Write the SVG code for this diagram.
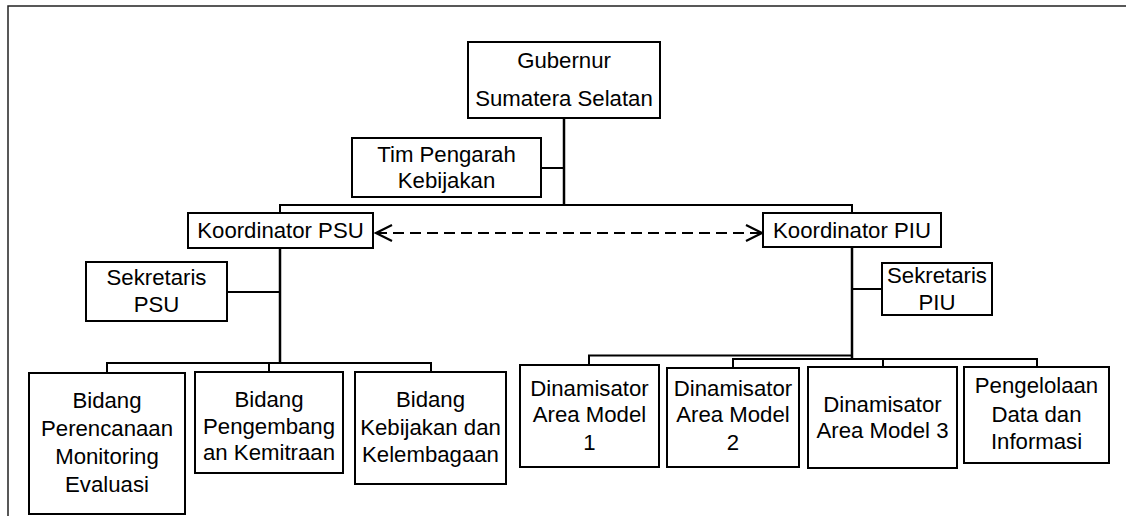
<svg xmlns="http://www.w3.org/2000/svg" width="1126" height="516" viewBox="0 0 1126 516">
  <style>
    .box { fill: #ffffff; stroke: #000000; stroke-width: 2; }
    .lbl { font-family: "Liberation Sans", Arial, sans-serif; font-size: 22.2px; fill: #000000; text-anchor: middle; }
    .ln { fill: none; stroke: #000000; stroke-width: 2; }
    .trunk { fill: none; stroke: #000000; stroke-width: 2.5; }
    .dash { fill: none; stroke: #000000; stroke-width: 2; stroke-dasharray: 11 6; }
    .frame { fill: none; stroke: #222222; stroke-width: 1.5; }
  </style>
  <defs>
    <marker id="chev" markerUnits="userSpaceOnUse" markerWidth="20" markerHeight="20" viewBox="-18 -10 20 20" refX="0" refY="0" orient="auto-start-reverse">
      <path d="M -16 -8 L 0 0 L -16 8" fill="none" stroke="#000000" stroke-width="2.2"/>
    </marker>
  </defs>

  <rect width="1126" height="516" fill="#ffffff"/>
  <!-- page frame (top and left rules) -->
  <path class="frame" d="M 8 516 V 6 H 1126"/>

  <!-- connectors -->
  <g id="connectors">
    <!-- Gubernur trunk to coordinators -->
    <path class="trunk" d="M 564 118 V 205"/>
    <path class="ln" d="M 541 168 H 564"/>
    <path class="ln" d="M 280 213 V 205 H 852 V 213"/>
    <!-- dashed two-way link between coordinators -->
    <path class="dash" d="M 376 233 H 762" marker-start="url(#chev)" marker-end="url(#chev)"/>
    <!-- PSU branch -->
    <path class="trunk" d="M 280 248 V 363"/>
    <path class="ln" d="M 227 292 H 280"/>
    <path class="ln" d="M 107 373 V 363 H 431 V 372"/>
    <path class="ln" d="M 269 363 V 372"/>
    <!-- PIU branch -->
    <path class="trunk" d="M 852 247 V 359"/>
    <path class="ln" d="M 852 289 H 882"/>
    <path class="ln" d="M 589 365 V 355.5 H 852"/>
    <path class="ln" d="M 733 368 V 359 H 1037 V 367"/>
    <path class="ln" d="M 883 359 V 367"/>
  </g>

  <g id="gubernur">
    <rect class="box" x="468" y="42" width="192" height="76"/>
    <text class="lbl" x="564" y="68">Gubernur</text>
    <text class="lbl" x="564" y="106">Sumatera Selatan</text>
  </g>

  <g id="tim-pengarah">
    <rect class="box" x="352" y="138" width="189" height="59"/>
    <text class="lbl" x="446.5" y="162">Tim Pengarah</text>
    <text class="lbl" x="446.5" y="188">Kebijakan</text>
  </g>

  <g id="koordinator-psu">
    <rect class="box" x="188" y="213" width="185" height="35"/>
    <text class="lbl" x="280.5" y="238">Koordinator PSU</text>
  </g>

  <g id="koordinator-piu">
    <rect class="box" x="763" y="213" width="178" height="34"/>
    <text class="lbl" x="852" y="238">Koordinator PIU</text>
  </g>

  <g id="sekretaris-psu">
    <rect class="box" x="86" y="262" width="141" height="59"/>
    <text class="lbl" x="156.5" y="285">Sekretaris</text>
    <text class="lbl" x="156.5" y="312">PSU</text>
  </g>

  <g id="sekretaris-piu">
    <rect class="box" x="882" y="263" width="110" height="52"/>
    <text class="lbl" x="937" y="283">Sekretaris</text>
    <text class="lbl" x="937" y="310">PIU</text>
  </g>

  <g id="bidang-perencanaan">
    <rect class="box" x="29" y="373" width="156" height="141"/>
    <text class="lbl" x="107" y="408">Bidang</text>
    <text class="lbl" x="107" y="436">Perencanaan</text>
    <text class="lbl" x="107" y="464">Monitoring</text>
    <text class="lbl" x="107" y="492">Evaluasi</text>
  </g>

  <g id="bidang-pengembangan">
    <rect class="box" x="195" y="372" width="148" height="101"/>
    <text class="lbl" x="269" y="407">Bidang</text>
    <text class="lbl" x="269" y="434">Pengembang</text>
    <text class="lbl" x="269" y="460">an Kemitraan</text>
  </g>

  <g id="bidang-kebijakan">
    <rect class="box" x="355" y="372" width="151" height="112"/>
    <text class="lbl" x="430.5" y="407">Bidang</text>
    <text class="lbl" x="430.5" y="435">Kebijakan dan</text>
    <text class="lbl" x="430.5" y="462">Kelembagaan</text>
  </g>

  <g id="dinamisator-1">
    <rect class="box" x="520" y="365" width="139" height="102"/>
    <text class="lbl" x="589.5" y="396">Dinamisator</text>
    <text class="lbl" x="589.5" y="422">Area Model</text>
    <text class="lbl" x="589.5" y="450">1</text>
  </g>

  <g id="dinamisator-2">
    <rect class="box" x="667" y="368" width="132" height="99"/>
    <text class="lbl" x="733" y="396">Dinamisator</text>
    <text class="lbl" x="733" y="422">Area Model</text>
    <text class="lbl" x="733" y="450">2</text>
  </g>

  <g id="dinamisator-3">
    <rect class="box" x="808" y="367" width="149" height="101"/>
    <text class="lbl" x="882.5" y="412">Dinamisator</text>
    <text class="lbl" x="882.5" y="438">Area Model 3</text>
  </g>

  <g id="pengelolaan-data">
    <rect class="box" x="964" y="367" width="145" height="96"/>
    <text class="lbl" x="1036.5" y="393">Pengelolaan</text>
    <text class="lbl" x="1036.5" y="422">Data dan</text>
    <text class="lbl" x="1036.5" y="449">Informasi</text>
  </g>
</svg>
